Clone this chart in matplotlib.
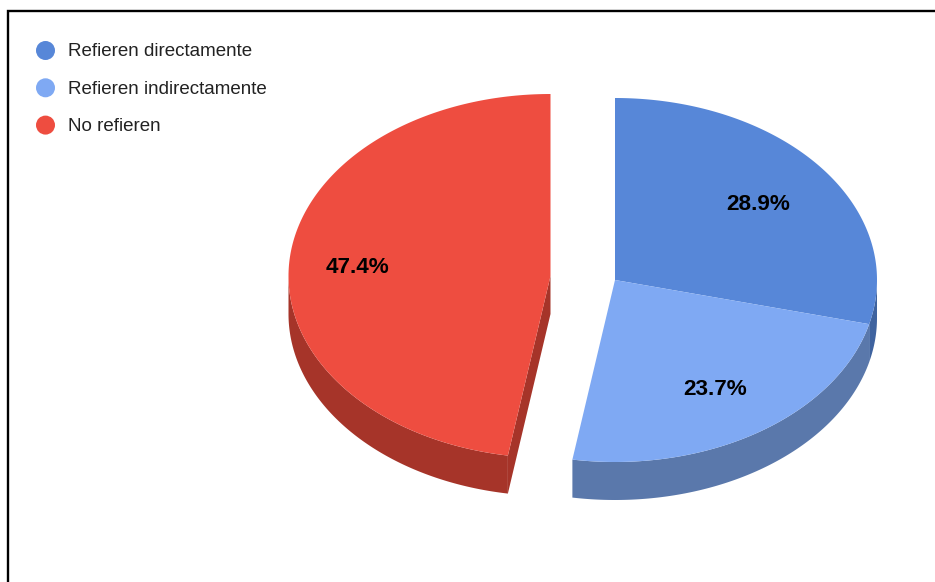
import numpy as np
import matplotlib
matplotlib.use("Agg")
import matplotlib.pyplot as plt
from matplotlib.patches import Polygon, Circle

categories = ["Refieren directamente", "Refieren indirectamente", "No refieren"]
shares = [28.9, 23.7, 47.4]
share_labels = ["28.9%", "23.7%", "47.4%"]
top_colors = ["#5787d8", "#7fa9f3", "#ee4d40"]
wall_colors = ["#3f639f", "#5a78ab", "#a63429"]

plt.rcParams["font.family"] = ["Liberation Sans", "DejaVu Sans"]

RX, RY = 262, 182
DEPTH = 38
CENTERS = [(615, 280), (615, 280), (550.5, 276)]
LABEL_POS = [(758, 204.5), (715.5, 389.5), (357, 267.5)]


def ellipse_pts(cx, cy, a0, a1, n=200):
    # angles run clockwise from twelve o'clock
    t = np.radians(np.linspace(a0, a1, n))
    return np.column_stack([cx + RX * np.sin(t), cy - RY * np.cos(t)])


fig = plt.figure(figsize=(9.35, 5.82), dpi=100)
ax = fig.add_axes([0, 0, 1, 1])
ax.set_xlim(0, 935)
ax.set_ylim(582, 0)
ax.axis("off")

# frame
ax.plot([7.5, 7.5, 935], [582, 10.5, 10.5], color="black", lw=1.7, solid_joinstyle="miter")

ends = np.cumsum(shares) / sum(shares) * 360
starts = np.concatenate([[0], ends[:-1]])

# side walls first, so the tops cover them
for i in range(3):
    cx, cy = CENTERS[i]
    a0, a1 = starts[i], ends[i]
    wall_a0, wall_a1 = max(a0, 90), min(a1, 270)
    rim = ellipse_pts(cx, cy, wall_a0, wall_a1)
    wall = np.vstack([rim, (rim + [0, DEPTH])[::-1]])
    ax.add_patch(Polygon(wall, closed=True, fc=wall_colors[i], ec="none", zorder=2))

# cut face of the pulled out slice, seen along its right edge
cx, cy = CENTERS[2]
edge = ellipse_pts(cx, cy, starts[2], starts[2], n=1)[0]
face = [(cx, cy), tuple(edge), (edge[0], edge[1] + DEPTH), (cx, cy + DEPTH)]
ax.add_patch(Polygon(face, closed=True, fc=wall_colors[2], ec="none", zorder=2))

for i in range(3):
    cx, cy = CENTERS[i]
    rim = ellipse_pts(cx, cy, starts[i], ends[i])
    top = np.vstack([[cx, cy], rim])
    ax.add_patch(Polygon(top, closed=True, fc=top_colors[i], ec="none", zorder=3))
    ax.text(*LABEL_POS[i], share_labels[i], ha="center", va="center",
            fontsize=16.2, fontweight="bold", color="black", zorder=4)

# legend
for i, name in enumerate(categories):
    y = 50.5 + i * 37.3
    ax.add_patch(Circle((45.5, y), 9.5, fc=top_colors[i], ec="none"))
    ax.text(67.5, y + 1.2, name, ha="left", va="center", fontsize=13.5, color="#222222")

fig.savefig("out.png", dpi=100)
